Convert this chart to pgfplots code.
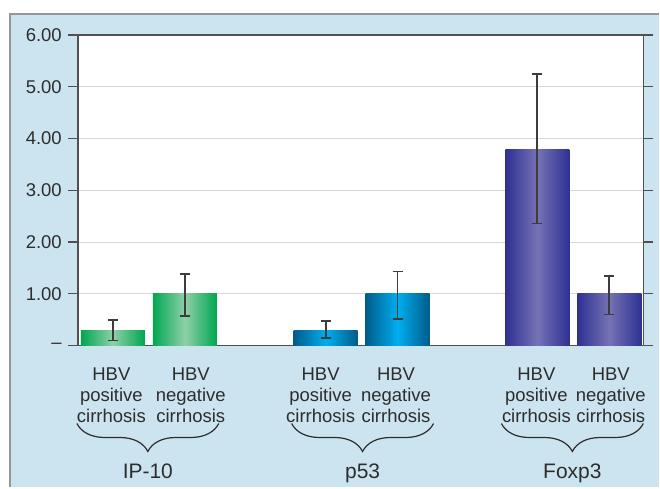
\documentclass[border=0pt]{standalone}
\usepackage{pgfplots}
\pgfplotsset{compat=1.18}
\usepackage{fontspec}
\setmainfont{Liberation Sans}
\usetikzlibrary{decorations.pathreplacing}
\definecolor{bgblue}{RGB}{204,228,239}
\definecolor{bordergray}{RGB}{150,150,150}
\definecolor{txt}{RGB}{45,45,45}
\definecolor{axgray}{RGB}{80,80,80}
\definecolor{gridgray}{RGB}{215,215,215}
\definecolor{gEdge}{RGB}{0,166,81}
\definecolor{gMid}{RGB}{143,208,168}
\definecolor{bEdge}{RGB}{0,92,138}
\definecolor{bMid}{RGB}{0,174,239}
\definecolor{pEdge}{RGB}{46,49,146}
\definecolor{pMid}{RGB}{118,114,181}
\definecolor{errgray}{RGB}{60,60,60}
\pgfplotsset{
  mybar/.style 2 args={ybar, bar width=64, bar shift=0pt, draw=none,
    left color=#1, right color=#1, middle color=#2},
  myerr/.style={forget plot, draw=none, mark=none,
    error bars/.cd, y dir=both, y explicit,
    error bar style={draw=errgray, line width=1.8pt},
    error mark options={rotate=90, mark size=5pt, draw=errgray, line width=1.8pt}},
}
\begin{document}
\begin{tikzpicture}
% background
\fill[white] (-78pt,-142pt) rectangle (582pt,346pt);
\fill[bgblue] (-68pt,-142pt) rectangle (582pt,332pt);
\draw[bordergray, line width=1.5pt] (-68pt,-142pt) -- (-68pt,332pt) -- (582pt,332pt);
\begin{axis}[
  at={(0pt,0pt)}, anchor=south west,
  scale only axis,
  width=566pt, height=311pt,
  xmin=78, xmax=644,
  ymin=0, ymax=6,
  axis background/.style={fill=white},
  axis line style={axgray, line width=1.2pt},
  ytick={0,1,2,3,4,5,6},
  yticklabels={–,1.00,2.00,3.00,4.00,5.00,6.00},
  yticklabel style={font=\fontsize{18.5}{21}\selectfont, text=txt, inner sep=0pt, xshift=-6pt},
  ymajorgrids, grid style={gridgray, line width=0.8pt},
  y tick style={axgray, line width=1.2pt},
  tick align=outside,
  major tick length=10pt,
  xtick={111.5,191,321,396.5,537,611.5},
  xticklabels={{HBV\\positive\\cirrhosis},{HBV\\negative\\cirrhosis},{HBV\\positive\\cirrhosis},{HBV\\negative\\cirrhosis},{HBV\\positive\\cirrhosis},{HBV\\negative\\cirrhosis}},
  xticklabel style={align=center, font=\fontsize{18.5}{21}\selectfont, text=txt, inner sep=0pt, yshift=-12pt},
  x tick style={draw=none},
  clip=false,
]
\addplot[mybar={gEdge}{gMid}] coordinates {(113,0.30)};
\addplot[mybar={gEdge}{gMid}] coordinates {(185,1.00)};
\addplot[mybar={bEdge}{bMid}] coordinates {(326,0.30)};
\addplot[mybar={bEdge}{bMid}] coordinates {(398,1.00)};
\addplot[mybar={pEdge}{pMid}] coordinates {(538,3.78)};
\addplot[mybar={pEdge}{pMid}] coordinates {(610,1.00)};
\addplot[myerr] coordinates {
  (113,0.30) += (0,0.20) -= (0,0.20)
  (185,1.00) += (0,0.38) -= (0,0.43)
  (326,0.30) += (0,0.18) -= (0,0.16)
  (398,1.00) += (0,0.43) -= (0,0.48)
  (538,3.78) += (0,1.47) -= (0,1.42)
  (610,1.00) += (0,0.35) -= (0,0.40)
};
\end{axis}
\begin{scope}[txt, line width=1.2pt]
\draw[decorate, decoration={brace, mirror, amplitude=28pt}] (-1pt,-78pt) -- (141pt,-78pt);
\draw[decorate, decoration={brace, mirror, amplitude=28pt}] (214pt,-78pt) -- (356pt,-78pt);
\draw[decorate, decoration={brace, mirror, amplitude=28pt}] (424pt,-78pt) -- (566pt,-78pt);
\end{scope}
\node[anchor=base, text=txt, font=\fontsize{21}{24}\selectfont] at (70pt,-133pt) {IP-10};
\node[anchor=base, text=txt, font=\fontsize{21}{24}\selectfont] at (285pt,-133pt) {p53};
\node[anchor=base, text=txt, font=\fontsize{21}{24}\selectfont] at (495pt,-133pt) {Foxp3};
\end{tikzpicture}
\end{document}
